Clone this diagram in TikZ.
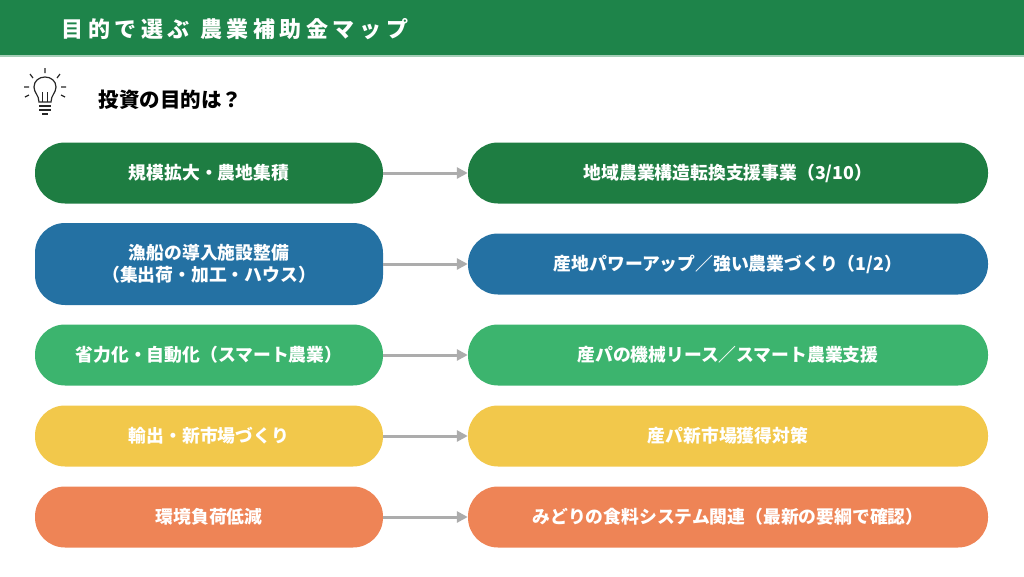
\documentclass[tikz,border=0pt]{standalone}
\usepackage{fontspec}
\newfontfamily\cjk{Noto Sans CJK JP}
\usetikzlibrary{arrows.meta}
\definecolor{hdgreen}{HTML}{1E844A}
\definecolor{cDark}{HTML}{1E7D42}
\definecolor{cBlue}{HTML}{2471A3}
\definecolor{cGreen}{HTML}{3CB46E}
\definecolor{cYellow}{HTML}{F2C84B}
\definecolor{cOrange}{HTML}{EE8456}
\newcommand\tsp{\kern4.6pt}
\tikzset{
  pill/.style={rounded corners=30pt, text=white, font=\cjk\bfseries\fontsize{17.8}{22}\selectfont, align=center, inner sep=0pt},
  link/.style={draw=gray!65, line width=3pt, -{Triangle[length=11pt,width=11pt]}}
}
\begin{document}
\begin{tikzpicture}[x=1pt,y=-1pt]
    \useasboundingbox (0,0) rectangle (1024,576);

    % header
    \fill[hdgreen] (0,0) rectangle (1024,55);
    \fill[hdgreen!40] (0,55) rectangle (1024,57);
    \node[anchor=west, text=white, font=\cjk\bfseries\fontsize{22}{26}\selectfont] (title) at (58,29) {目\tsp 的\tsp で\tsp 選\tsp ぶ\ \ 農\tsp 業\tsp 補\tsp 助\tsp 金\tsp マ\tsp ッ\tsp プ};

    % question
    \node[anchor=west, font=\cjk\bfseries\fontsize{20.5}{24}\selectfont] (q) at (95,100) {投資の目的は？};
    \begin{scope}[shift={(45,90)}, line width=1.2pt, gray!30!black]
        \draw (-6,12) .. controls (-6,5) and (-11,3) .. (-11,-3) .. controls (-11,-9) and (-6,-13) .. (0,-13) .. controls (6,-13) and (11,-9) .. (11,-3) .. controls (11,3) and (6,5) .. (6,12) -- cycle;
        \draw (-6,16) -- (6,16) (-6,20) -- (6,20) (-3,24) -- (3,24);
        \draw (-2.5,12) -- (-2.5,2) (2.5,12) -- (2.5,2);
        \draw (0,-17) -- (0,-22) (-12,-12) -- (-15,-16) (12,-12) -- (15,-16);
        \draw (-16,-3) -- (-21,-3) (16,-3) -- (21,-3) (-16,5) -- (-20,7) (16,5) -- (20,7);
    \end{scope}

    % rows
    \foreach \y/\h/\col/\ltxt/\rtxt [count=\i] in {
        173/61/cDark/{規模拡大・農地集積}/{地域農業構造転換支援事業（3/10）},
        264/82/cBlue/{漁船の導入施設整備\\（集出荷・加工・ハウス）}/{産地パワーアップ／強い農業づくり（1/2）},
        355/61/cGreen/{省力化・自動化（スマート農業）}/{産パの機械リース／スマート農業支援},
        436/61/cYellow/{輸出・新市場づくり}/{産パ新市場獲得対策},
        517/61/cOrange/{環境負荷低減}/{みどりの食料システム関連（最新の要綱で確認）}} {
        \node[pill, fill=\col, minimum width=348pt, minimum height=\h pt] (goal\i) at (209,\y) {\ltxt};
        \node[pill, fill=\col, minimum width=520pt, minimum height=61pt] (aid\i) at (728,\y) {\rtxt};
        \draw[link] (goal\i) -- (aid\i);
    }
\end{tikzpicture}
\end{document}
